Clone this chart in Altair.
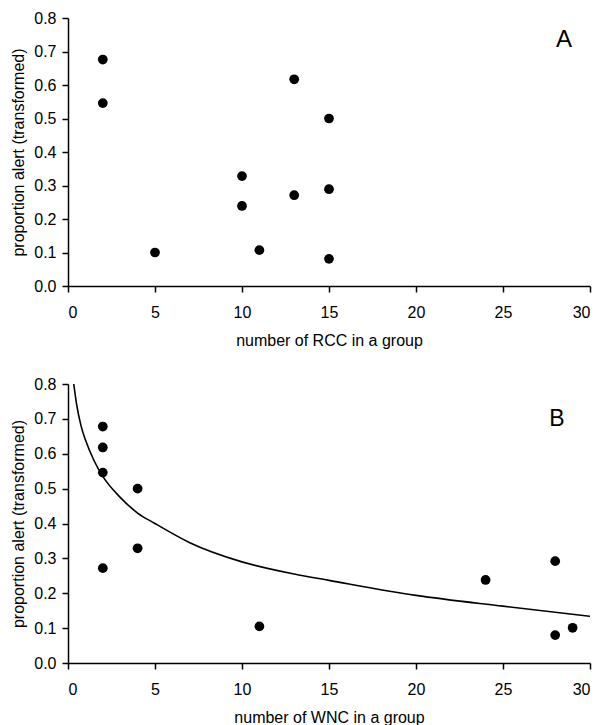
import altair as alt
import pandas as pd

# Panel A: RCC group size vs proportion alert
rcc_x = [2, 2, 5, 10, 10, 11, 13, 13, 15, 15, 15]
rcc_y = [0.676, 0.546, 0.100, 0.328, 0.239, 0.107, 0.617, 0.271, 0.500, 0.289, 0.081]

# Panel B: WNC group size vs proportion alert
wnc_x = [2, 2, 2, 2, 4, 4, 11, 24, 28, 28, 29]
wnc_y = [0.678, 0.618, 0.546, 0.272, 0.500, 0.329, 0.105, 0.238, 0.292, 0.080, 0.101]

# Fitted curve in panel B
curve_x = [0.33, 0.5, 0.75, 1, 1.5, 2, 3, 4, 5, 7, 10, 13, 15, 20, 25, 30]
curve_y = [0.80, 0.74, 0.68, 0.64, 0.58, 0.535, 0.475, 0.43, 0.40, 0.345, 0.29, 0.255, 0.237, 0.194, 0.163, 0.134]

panel_labels = ["A", "B"]
label_x = [28.5, 28.1]
label_y = [0.735, 0.70]

x_ticks = [0, 5, 10, 15, 20, 25, 30]
y_ticks = [0.0, 0.1, 0.2, 0.3, 0.4, 0.5, 0.6, 0.7, 0.8]

FONT = "Liberation Sans"
W = 522

AX_COMMON = dict(
    grid=False, domainColor="black", domainWidth=1.5,
    tickColor="black", tickWidth=1.5, tickSize=6,
    labelFont=FONT, labelFontSize=16, labelColor="black", labelOverlap=False,
    titleFont=FONT, titleFontSize=16, titleColor="black", titleFontWeight="normal",
)


def xenc(title):
    return alt.X("x:Q", title=title,
                 scale=alt.Scale(domain=[0, 30], nice=False, zero=False),
                 axis=alt.Axis(values=x_ticks, format="d", labelPadding=12,
                               titlePadding=12, **AX_COMMON))


def yenc():
    return alt.Y("y:Q", title="proportion alert (transformed)",
                 scale=alt.Scale(domain=[0, 0.8], nice=False),
                 axis=alt.Axis(values=y_ticks, format=".1f", labelPadding=6,
                               titlePadding=7, **AX_COMMON))


dfA = pd.DataFrame({"x": rcc_x, "y": rcc_y})
dfB = pd.DataFrame({"x": wnc_x, "y": wnc_y})
dfC = pd.DataFrame({"x": curve_x, "y": curve_y})
dfLA = pd.DataFrame({"x": [label_x[0]], "y": [label_y[0]], "t": [panel_labels[0]]})
dfLB = pd.DataFrame({"x": [label_x[1]], "y": [label_y[1]], "t": [panel_labels[1]]})

tA = "number of RCC in a group"
tB = "number of WNC in a group"

pointsA = alt.Chart(dfA).mark_circle(size=95, color="black", opacity=1).encode(
    x=xenc(tA), y=yenc())
textA = alt.Chart(dfLA).mark_text(fontSize=24, font=FONT, color="black").encode(
    x=xenc(tA), y=yenc(), text="t:N")
panelA = alt.layer(pointsA, textA).properties(width=W, height=268)

curveB = alt.Chart(dfC).mark_line(color="black", strokeWidth=1.6, interpolate="monotone").encode(
    x=xenc(tB), y=yenc())
pointsB = alt.Chart(dfB).mark_circle(size=95, color="black", opacity=1).encode(
    x=xenc(tB), y=yenc())
textB = alt.Chart(dfLB).mark_text(fontSize=23, font=FONT, color="black").encode(
    x=xenc(tB), y=yenc(), text="t:N")
panelB = alt.layer(curveB, pointsB, textB).properties(width=W, height=279)

chart = alt.vconcat(panelA, panelB, spacing=28).properties(
    padding={"left": 2, "top": 2, "right": 0, "bottom": 0},
    background="white",
).configure_view(stroke=None)

chart.save("out.html", embed_options={"renderer": "svg", "actions": False})
